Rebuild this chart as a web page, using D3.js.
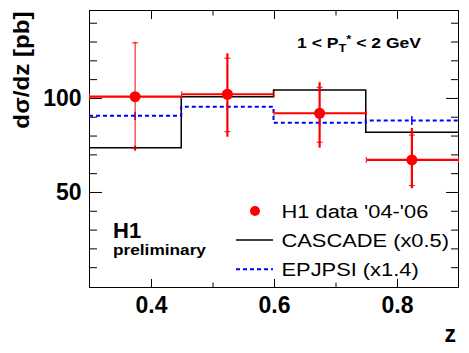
<!DOCTYPE html>
<html>
<head>
<meta charset="utf-8">
<script src="https://cdn.jsdelivr.net/npm/d3@7"></script>
<style>
  body { margin: 0; background: #fff; }
  svg { display: block; font-family: "Liberation Sans", Arial, sans-serif; }
</style>
</head>
<body>
<svg id="chart"></svg>
<script>
// bins in z
const zEdges = [0.3, 0.45, 0.6, 0.75, 0.9];
const zCenters = [0.375, 0.525, 0.675, 0.825];

// H1 data '04-'06
const h1Values = [100.4, 101.7, 91.6, 66.8];
const h1StatUp = [28.6, 19.2, 13.8, 13.2];
const h1StatDown = [27.3, 19.9, 15.4, 13.7];
const h1TotUp = [29.3, 21.8, 16.5, 17.0];
const h1TotDown = [29.0, 22.6, 18.3, 15.1];

// models
const cascadeValues = [73.2, 100.4, 104.0, 81.5];
const cascadeErr = [1.1, 1.0, 1.0, 1.6];
const epjpsiValues = [90.2, 95.1, 86.6, 87.7];
const epjpsiErr = [2.2, 2.0, 2.0, 2.4];

// axes
const xMajorTicks = [0.4, 0.6, 0.8];
const xMinorTicks = [0.5, 0.7];
const yMajorTicks = [50, 100];
const yMinorTicks = [10, 20, 30, 40, 60, 70, 80, 90, 110, 120, 130, 140];

const legendLabels = ["H1 data '04-'06", "CASCADE (x0.5)", "EPJPSI (x1.4)"];

const W = 469, H = 353;
const frame = {left: 89, right: 458, top: 10, bottom: 287};

const svg = d3.select('#chart').attr('width', W).attr('height', H);

const x = d3.scaleLinear().domain([0.3, 0.9]).range([frame.left, frame.right]);
const y = d3.scaleLinear().domain([-0.8, 146.5]).range([frame.bottom, frame.top]);

// frame
svg.append('rect')
    .attr('x', frame.left + 0.5).attr('y', frame.top + 0.5)
    .attr('width', frame.right - frame.left).attr('height', frame.bottom - frame.top)
    .attr('fill', 'none').attr('stroke', '#000').attr('stroke-width', 1);

function styleAxis(g, fontSize) {
  g.select('.domain').remove();
  g.selectAll('line').attr('stroke', '#000').attr('stroke-width', 1);
  g.selectAll('text')
      .attr('fill', '#000')
      .attr('font-family', '"Liberation Sans", Arial, sans-serif')
      .attr('font-weight', 'bold')
      .attr('font-size', fontSize);
}

// bottom axis
svg.append('g').attr('transform', `translate(0.5,${frame.bottom})`)
    .call(d3.axisBottom(x).tickValues(xMajorTicks).tickSize(-8).tickPadding(9.5).tickFormat(d3.format('.1f')))
    .call(g => styleAxis(g, 23));
svg.append('g').attr('transform', `translate(0.5,${frame.bottom})`)
    .call(d3.axisBottom(x).tickValues(xMinorTicks).tickSize(-4.5).tickFormat(''))
    .call(g => styleAxis(g, 10));
// top axis
svg.append('g').attr('transform', `translate(0.5,${frame.top + 1})`)
    .call(d3.axisTop(x).tickValues(xMajorTicks).tickSize(-8).tickFormat(''))
    .call(g => styleAxis(g, 10));
svg.append('g').attr('transform', `translate(0.5,${frame.top + 1})`)
    .call(d3.axisTop(x).tickValues(xMinorTicks).tickSize(-4.5).tickFormat(''))
    .call(g => styleAxis(g, 10));

// left axis
svg.append('g').attr('transform', `translate(${frame.left + 1},0.5)`)
    .call(d3.axisLeft(y).tickValues(yMajorTicks).tickSize(-12).tickPadding(8.5).tickFormat(d3.format('d')))
    .call(g => styleAxis(g, 23));
svg.append('g').attr('transform', `translate(${frame.left + 1},0.5)`)
    .call(d3.axisLeft(y).tickValues(yMinorTicks).tickSize(-7).tickFormat(''))
    .call(g => styleAxis(g, 10));
// right axis
svg.append('g').attr('transform', `translate(${frame.right},0.5)`)
    .call(d3.axisRight(y).tickValues(yMajorTicks).tickSize(-12).tickFormat(''))
    .call(g => styleAxis(g, 10));
svg.append('g').attr('transform', `translate(${frame.right},0.5)`)
    .call(d3.axisRight(y).tickValues(yMinorTicks).tickSize(-7).tickFormat(''))
    .call(g => styleAxis(g, 10));

// axis titles
svg.append('text')
    .attr('transform', `translate(29,${(frame.top + 128) / 2 + 1}) rotate(-90) scale(1.1,1)`)
    .attr('text-anchor', 'middle')
    .attr('font-weight', 'bold').attr('font-size', 22)
    .text('dσ/dz [pb]');
svg.append('text')
    .attr('x', 456).attr('y', 342)
    .attr('text-anchor', 'end')
    .attr('font-weight', 'bold').attr('font-size', 23)
    .text('z');

// model histograms
const stepPts = vals => vals.map((v, i) => [zEdges[i], v]).concat([[zEdges[zEdges.length - 1], vals[vals.length - 1]]]);
const step = d3.line().x(d => x(d[0])).y(d => y(d[1])).curve(d3.curveStepAfter);

const plot = svg.append('g');

plot.append('path')
    .datum(stepPts(cascadeValues))
    .attr('d', step)
    .attr('fill', 'none').attr('stroke', '#000').attr('stroke-width', 1.5);
plot.selectAll('.cas-err')
    .data(zCenters)
    .join('line')
    .attr('class', 'cas-err')
    .attr('x1', d => x(d)).attr('x2', d => x(d))
    .attr('y1', (d, i) => y(cascadeValues[i] + cascadeErr[i]))
    .attr('y2', (d, i) => y(cascadeValues[i] - cascadeErr[i]))
    .attr('stroke', '#000').attr('stroke-width', 1.5);

plot.append('path')
    .datum(stepPts(epjpsiValues))
    .attr('d', step)
    .attr('fill', 'none').attr('stroke', '#0000ff').attr('stroke-width', 2)
    .attr('stroke-dasharray', '4,3');
plot.selectAll('.ep-err')
    .data(zCenters)
    .join('line')
    .attr('class', 'ep-err')
    .attr('x1', d => x(d)).attr('x2', d => x(d))
    .attr('y1', (d, i) => y(epjpsiValues[i] + epjpsiErr[i]))
    .attr('y2', (d, i) => y(epjpsiValues[i] - epjpsiErr[i]))
    .attr('stroke', '#0000ff').attr('stroke-width', 1.5);

// H1 data
const red = '#ff0000';
const pts = zCenters.map((z, i) => ({z, i, v: h1Values[i]}));
const pg = plot.selectAll('.h1pt').data(pts).join('g').attr('class', 'h1pt');

// horizontal bars (bin width) with end caps
pg.append('line')
    .attr('x1', d => x(zEdges[d.i]) + 1).attr('x2', d => x(zEdges[d.i + 1]))
    .attr('y1', d => y(d.v)).attr('y2', d => y(d.v))
    .attr('stroke', red).attr('stroke-width', 2.2);
pg.selectAll('.hcap')
    .data(d => [zEdges[d.i], zEdges[d.i + 1]].map(e => ({e, v: d.v})))
    .join('line')
    .attr('x1', d => x(d.e) + 0.5).attr('x2', d => x(d.e) + 0.5)
    .attr('y1', d => y(d.v) - 3).attr('y2', d => y(d.v) + 3)
    .attr('stroke', red).attr('stroke-width', 1);

// vertical total error
pg.append('line')
    .attr('x1', d => x(d.z)).attr('x2', d => x(d.z))
    .attr('y1', d => y(d.v + h1TotUp[d.i])).attr('y2', d => y(d.v - h1TotDown[d.i]))
    .attr('stroke', red).attr('stroke-width', d => d.i === 0 ? 1 : 2.2);
// stat error caps
pg.selectAll('.vcap')
    .data(d => [d.v + h1StatUp[d.i], d.v - h1StatDown[d.i]].map(e => ({e, z: d.z})))
    .join('line')
    .attr('x1', d => x(d.z) - 3).attr('x2', d => x(d.z) + 3)
    .attr('y1', d => y(d.e)).attr('y2', d => y(d.e))
    .attr('stroke', red).attr('stroke-width', 1);

pg.append('circle')
    .attr('cx', d => x(d.z)).attr('cy', d => y(d.v))
    .attr('r', 5.5)
    .attr('fill', red);

// annotation
const pt = svg.append('text')
    .attr('transform', 'translate(297,48) scale(1.17,1)')
    .attr('font-weight', 'bold').attr('font-size', 15);
pt.append('tspan').text('1 < P');
pt.append('tspan').attr('font-size', 11).attr('dy', 4).text('T');
pt.append('tspan').attr('font-size', 11).attr('dy', -9).text('*');
pt.append('tspan').attr('dy', 5).text(' < 2 GeV');

svg.append('text')
    .attr('transform', 'translate(113,238)')
    .attr('font-weight', 'bold').attr('font-size', 22)
    .text('H1');
svg.append('text')
    .attr('transform', 'translate(113,255) scale(1.15,1)')
    .attr('font-weight', 'bold').attr('font-size', 15)
    .text('preliminary');

// legend
const legY = [211, 240, 269.3];
const leg = svg.append('g');
leg.append('circle').attr('cx', 255).attr('cy', legY[0]).attr('r', 5).attr('fill', red);
leg.append('line').attr('x1', 236).attr('x2', 273).attr('y1', legY[1]).attr('y2', legY[1])
    .attr('stroke', '#000').attr('stroke-width', 1.5);
leg.append('line').attr('x1', 236).attr('x2', 273).attr('y1', legY[2]).attr('y2', legY[2])
    .attr('stroke', '#0000ff').attr('stroke-width', 2).attr('stroke-dasharray', '4,3');
leg.selectAll('.leg-text')
    .data(legendLabels)
    .join('text')
    .attr('class', 'leg-text')
    .attr('transform', (d, i) => `translate(281.5,${legY[i] + 6.8}) scale(1.15,1)`)
    .attr('font-size', 19)
    .text(d => d);
</script>
</body>
</html>
